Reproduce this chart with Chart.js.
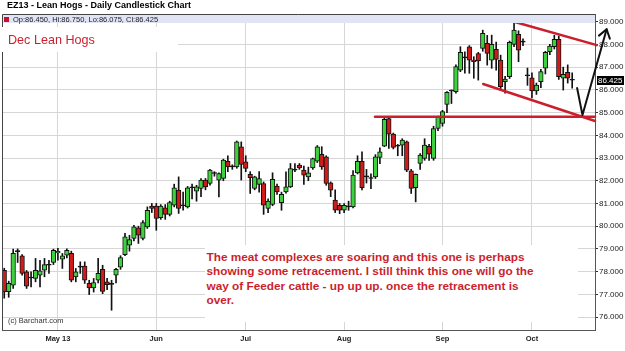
<!DOCTYPE html>
<html>
<head>
<meta charset="utf-8">
<script src="https://cdn.jsdelivr.net/npm/chart.js@4.4.1/dist/chart.umd.min.js"></script>
<style>
  html, body { margin: 0; padding: 0; background: #fff; }
  body { width: 625px; height: 351px; position: relative; overflow: hidden;
         font-family: "Liberation Sans", Arial, sans-serif; }
  #c { position: absolute; left: 0; top: 0; }
  .title { position: absolute; left: 7px; top: 0px; font-size: 9px; line-height: 11px;
           font-weight: bold; color: #000; white-space: nowrap; }
  .band { position: absolute; left: 3px; top: 15px; width: 592px; height: 8px; background: #e1e4f5; }
  .band .sq { position: absolute; left: 1px; top: 2px; width: 5px; height: 5px; background: #c8102e; }
  .band .ohlc { position: absolute; left: 10px; top: 0.5px; font-size: 7.5px; line-height: 8px;
                color: #222; white-space: nowrap; }
  .tag { position: absolute; left: 2px; top: 27px; width: 176px; height: 25px; background: #fff;
         box-sizing: border-box; padding: 6.5px 0 0 6px; font-size: 12.6px; line-height: 12.6px;
         color: #cc1f2e; white-space: nowrap; }
  .note { position: absolute; left: 205px; top: 245px; width: 373px; height: 77px; background: #fff;
          box-sizing: border-box; padding: 4.5px 0 0 1.5px; font-size: 11.8px; line-height: 14.5px;
          font-weight: bold; color: #cc1f2e; white-space: nowrap; }
  .copy { position: absolute; left: 8px; top: 317px; font-size: 7.5px; line-height: 8px; color: #333;
          white-space: nowrap; }
</style>
</head>
<body>
<canvas id="c" width="625" height="351"></canvas>
<div class="title">EZ13 - Lean Hogs - Daily Candlestick Chart</div>
<div class="band"><span class="sq"></span><span class="ohlc" id="ohlc"></span></div>
<div class="tag">Dec Lean Hogs</div>
<div class="note">The meat complexes are soaring and this one is perhaps<br>showing some retracement. I still think this one will go the<br>way of Feeder cattle - up up up. once the retracement is<br>over.</div>
<div class="copy">(c) Barchart.com</div>
<script>
// daily bars, Apr 15 2013 -> Oct 2013 (one entry per trading day)
const opens = [
  78.06, 77.12, 77.40, 78.88, 78.69, 77.99, 77.72, 77.70, 77.84, 78.06,
  78.28, 78.40, 78.82, 78.55, 78.72, 78.80, 77.77, 78.20, 78.24, 77.48,
  77.28, 77.62, 78.10, 77.55, 77.44, 77.84, 78.20, 78.75, 79.16, 79.46,
  79.93, 79.46, 79.97, 80.88, 80.88, 80.37, 80.81, 80.52, 80.92, 81.59,
  80.90, 80.85, 81.69, 81.54, 81.66, 82.03, 81.88, 82.32, 82.03, 82.10,
  82.86, 82.61, 82.61, 83.49, 82.83, 82.28, 81.66, 81.84, 81.88, 80.78,
  80.96, 81.76, 81.04, 81.51, 81.73, 82.47, 82.69, 82.47, 82.17, 82.57,
  82.86, 83.16, 83.05, 81.91, 81.15, 80.92, 80.70, 80.85, 80.85, 82.35,
  82.86, 82.17, 82.10, 82.17, 83.03, 83.52, 84.74, 84.05, 83.52, 83.57,
  83.71, 82.44, 81.70, 82.76, 82.98, 83.52, 82.98, 84.30, 84.52, 85.36,
  85.95, 85.92, 86.87, 87.41, 87.90, 87.31, 87.60, 87.83, 88.05, 87.31,
  87.78, 87.31, 86.36, 86.58, 88.00, 88.44, 88.10, 86.62, 86.53, 85.95,
  86.36, 86.95, 87.68, 87.90, 88.22, 86.51, 86.77, 86.450
];
const highs = [
  78.15, 77.58, 78.99, 79.00, 78.75, 78.05, 77.99, 78.58, 78.50, 78.58,
  78.50, 78.99, 79.02, 78.80, 79.00, 78.90, 78.14, 78.43, 78.43, 77.62,
  77.70, 78.58, 78.28, 77.70, 77.62, 78.15, 78.70, 79.68, 79.60, 80.04,
  80.00, 80.25, 80.85, 81.00, 81.00, 80.95, 80.95, 81.10, 81.85, 82.17,
  81.50, 81.75, 81.85, 81.80, 82.10, 82.10, 82.50, 82.40, 82.35, 82.95,
  83.10, 82.70, 83.75, 83.71, 83.10, 82.40, 82.20, 82.40, 81.95, 81.20,
  82.35, 81.85, 81.50, 82.39, 82.76, 82.76, 82.76, 82.65, 82.60, 83.00,
  83.55, 83.50, 83.10, 81.95, 81.60, 81.00, 81.00, 81.10, 82.45, 83.10,
  83.27, 82.50, 82.30, 83.15, 83.45, 84.75, 84.78, 84.10, 83.60, 83.85,
  83.75, 82.50, 82.30, 83.20, 83.85, 83.60, 84.40, 84.85, 85.10, 85.92,
  86.00, 87.10, 87.90, 87.68, 87.95, 87.46, 87.65, 88.63, 88.40, 88.41,
  88.10, 87.53, 86.60, 88.15, 89.03, 88.60, 88.25, 86.96, 86.75, 86.30,
  86.90, 87.70, 88.00, 88.40, 88.37, 87.00, 87.10, 86.750
];
const lows = [
  76.83, 76.87, 77.26, 78.40, 77.84, 77.26, 77.33, 77.55, 77.33, 77.77,
  77.92, 78.31, 78.50, 78.14, 78.60, 77.55, 77.55, 77.92, 77.48, 76.99,
  77.10, 77.50, 77.03, 77.20, 76.30, 77.50, 78.10, 78.70, 78.90, 79.35,
  79.24, 79.40, 79.90, 80.60, 79.82, 80.30, 80.30, 80.45, 80.85, 80.56,
  80.70, 80.80, 81.20, 81.10, 81.30, 81.60, 81.80, 82.20, 81.29, 82.00,
  82.40, 82.50, 82.55, 82.03, 82.40, 81.44, 81.60, 81.50, 80.52, 80.60,
  80.90, 81.40, 80.70, 81.45, 81.70, 82.40, 82.50, 81.84, 82.00, 82.50,
  82.80, 82.50, 81.80, 81.30, 80.60, 80.55, 80.60, 80.70, 80.80, 82.30,
  81.60, 81.90, 81.65, 82.10, 82.75, 83.50, 83.42, 83.40, 83.10, 83.10,
  82.40, 81.44, 81.07, 82.50, 82.90, 82.90, 82.90, 84.20, 84.40, 85.00,
  85.40, 85.85, 86.80, 86.73, 86.73, 86.51, 86.43, 87.70, 87.09, 86.95,
  86.87, 86.00, 85.85, 86.50, 87.90, 87.24, 87.95, 86.20, 85.65, 85.80,
  86.10, 86.70, 87.55, 87.80, 86.46, 85.99, 86.30, 86.075
];
const closes = [
  77.11, 77.48, 78.80, 78.88, 77.92, 77.36, 77.72, 78.06, 78.03, 78.31,
  78.28, 78.94, 78.90, 78.69, 78.94, 77.62, 77.99, 78.20, 77.62, 77.28,
  77.52, 77.92, 77.13, 77.42, 77.44, 78.10, 78.62, 79.53, 79.41, 79.97,
  79.60, 80.16, 80.70, 80.78, 80.34, 80.88, 80.52, 81.04, 81.69, 80.78,
  80.90, 81.69, 81.69, 81.73, 82.03, 81.73, 82.47, 82.32, 82.32, 82.91,
  82.61, 82.61, 83.71, 82.72, 82.54, 82.13, 82.17, 82.10, 80.92, 81.10,
  82.06, 81.51, 81.40, 81.73, 82.54, 82.47, 82.57, 82.25, 82.35, 82.98,
  83.49, 82.61, 81.88, 81.59, 80.70, 80.70, 80.92, 80.85, 82.25, 82.86,
  81.70, 82.17, 82.10, 83.05, 83.27, 84.70, 84.05, 83.47, 83.52, 83.79,
  82.47, 81.66, 82.28, 83.13, 83.57, 83.17, 84.30, 84.79, 85.04, 85.89,
  85.95, 87.02, 87.65, 87.41, 87.31, 87.24, 87.27, 88.49, 87.61, 88.00,
  87.34, 86.14, 86.48, 88.09, 88.63, 87.75, 88.10, 86.62, 85.95, 86.21,
  86.80, 87.65, 87.93, 88.22, 86.58, 86.68, 86.51, 86.425
];

// x axis: month starts (bar index) and their labels
const monthTickIdx = [12, 34, 54, 76, 98, 118];
const monthLabels = ["May 13", "Jun", "Jul", "Aug", "Sep", "Oct"];
// y axis tick values
const priceTicks = [76, 77, 78, 79, 80, 81, 82, 83, 84, 85, 86, 87, 88, 89];

// hand drawn annotations, as [bar index, price]
const supportLine = [[82.9, 84.82], [132.1, 84.82]];
const channelTop = [[113.8, 89.01], [132.5, 87.97]];
const channelBottom = [[107.1, 86.26], [132.1, 84.63]];
const arrowPath = [[128.1, 86.08], [129.3, 84.89], [134.7, 88.67]];

const FONT = '"Liberation Sans", Arial, sans-serif';
const last = closes.length - 1;

document.getElementById("ohlc").textContent =
  "Op:" + opens[last].toFixed(3) + ", Hi:" + highs[last].toFixed(3) +
  ", Lo:" + lows[last].toFixed(3) + ", Cl:" + closes[last].toFixed(3);

const idx = closes.map((_, i) => i);
const bodies = idx.map(i => ({ x: i, y: [Math.min(opens[i], closes[i]), Math.max(opens[i], closes[i])] }));
const wicks = idx.map(i => ({ x: i, y: [lows[i], highs[i]] }));
const bodyColors = idx.map(i => {
  const d = closes[i] - opens[i];
  if (Math.abs(d) < 0.03) return "#111"; // doji
  return d > 0 ? "#3dd13d" : "#d11a1a";
});

// frame, trend lines, arrow and last price box
const overlay = {
  id: "overlay",
  afterDraw(chart) {
    const { ctx, chartArea: a, scales: { x, y } } = chart;
    const pt = p => [x.getPixelForValue(p[0]), y.getPixelForValue(p[1])];
    ctx.save();

    ctx.strokeStyle = "#444";
    ctx.lineWidth = 1;
    ctx.beginPath();
    ctx.moveTo(a.left + 0.5, a.bottom);
    ctx.lineTo(a.left + 0.5, a.top + 0.5);
    ctx.lineTo(a.right, a.top + 0.5);
    ctx.stroke();

    ctx.strokeStyle = "#cc1f2e";
    ctx.lineWidth = 2.5;
    ctx.lineCap = "round";
    [supportLine, channelTop, channelBottom].forEach(seg => {
      const p0 = pt(seg[0]), p1 = pt(seg[1]);
      ctx.beginPath();
      ctx.moveTo(p0[0], p0[1]);
      ctx.lineTo(p1[0], p1[1]);
      ctx.stroke();
    });

    // black "V" arrow
    ctx.strokeStyle = "#111";
    ctx.lineWidth = 2;
    ctx.lineJoin = "round";
    const pts = arrowPath.map(pt);
    ctx.beginPath();
    pts.forEach((p, i) => (i ? ctx.lineTo(p[0], p[1]) : ctx.moveTo(p[0], p[1])));
    ctx.stroke();
    const tip = pts[pts.length - 1], prev = pts[pts.length - 2];
    const ang = Math.atan2(prev[1] - tip[1], prev[0] - tip[0]);
    ctx.beginPath();
    ctx.moveTo(tip[0] + 10 * Math.cos(ang + 0.6), tip[1] + 10 * Math.sin(ang + 0.6));
    ctx.lineTo(tip[0], tip[1]);
    ctx.lineTo(tip[0] + 10 * Math.cos(ang - 0.6), tip[1] + 10 * Math.sin(ang - 0.6));
    ctx.stroke();

    // last close on the price axis
    const yy = y.getPixelForValue(closes[last]);
    ctx.fillStyle = "#000";
    ctx.fillRect(a.right + 2, Math.round(yy - 4.5), 27, 9);
    ctx.fillStyle = "#fff";
    ctx.font = "8px " + FONT;
    ctx.textBaseline = "middle";
    ctx.fillText(closes[last].toFixed(3), a.right + 3, yy + 0.5);
    ctx.restore();
  }
};

new Chart(document.getElementById("c"), {
  type: "bar",
  data: {
    datasets: [
      {
        data: bodies,
        backgroundColor: bodyColors,
        borderColor: "#111",
        borderWidth: 1,
        borderSkipped: false,
        barThickness: 4.6,
        minBarLength: 1,
        grouped: false,
        order: 0
      },
      {
        data: wicks,
        backgroundColor: "#111",
        borderWidth: 0,
        barThickness: 1,
        grouped: false,
        order: 1
      }
    ]
  },
  options: {
    responsive: false,
    animation: false,
    events: [],
    layout: { padding: { left: 2, top: 14, right: 0, bottom: 0 } },
    plugins: { legend: { display: false }, tooltip: { enabled: false } },
    scales: {
      x: {
        type: "linear",
        min: -0.5,
        max: 132.1,
        offset: false,
        afterBuildTicks: s => { s.ticks = monthTickIdx.map(v => ({ value: v })); },
        afterFit: s => { s.height = 21; },
        grid: { color: "#d6d6d6", offset: false, drawTicks: false },
        border: { display: true, color: "#555", width: 1 },
        ticks: {
          padding: 4,
          color: "#222",
          autoSkip: false,
          maxRotation: 0,
          font: { family: FONT, size: 7.5, weight: "bold" },
          callback: v => monthLabels[monthTickIdx.indexOf(v)] ?? ""
        }
      },
      y: {
        position: "right",
        min: 75.43,
        max: 89.34,
        beginAtZero: false,
        afterBuildTicks: s => { s.ticks = priceTicks.map(v => ({ value: v })); },
        afterFit: s => { s.width = 30; },
        grid: { color: "#d6d6d6", tickLength: 3, tickColor: "#333" },
        border: { display: true, color: "#555", width: 1 },
        ticks: {
          padding: 1,
          color: "#222",
          font: { family: FONT, size: 8 },
          callback: v => Number(v).toFixed(3)
        }
      }
    }
  },
  plugins: [overlay]
});
</script>
</body>
</html>
